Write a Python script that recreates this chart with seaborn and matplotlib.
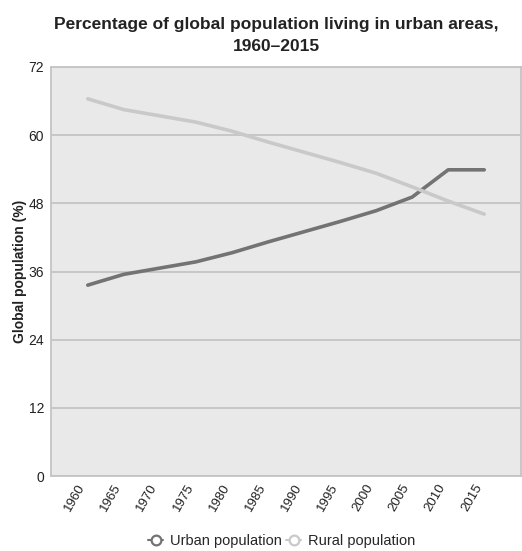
import pandas as pd
import seaborn as sns
from matplotlib import pyplot as plt
from matplotlib.lines import Line2D

years = [1960, 1965, 1970, 1975, 1980, 1985, 1990, 1995, 2000, 2005, 2010, 2015]
urban = [33.6, 35.5, 36.6, 37.7, 39.3, 41.2, 43.0, 44.8, 46.7, 49.1, 53.9, 53.9]
rural = [66.4, 64.5, 63.4, 62.3, 60.7, 58.8, 57.0, 55.2, 53.3, 50.9, 48.4, 46.1]
series_names = ["Urban population", "Rural population"]
y_ticks = [0, 12, 24, 36, 48, 60, 72]

colors = {"Urban population": "#737373", "Rural population": "#c9c9c9"}

df = pd.concat([
    pd.DataFrame({"year": years, "value": urban, "series": series_names[0]}),
    pd.DataFrame({"year": years, "value": rural, "series": series_names[1]}),
])

sns.set_theme(style="white")
plt.rcParams["font.family"] = ["Liberation Sans", "DejaVu Sans"]

fig = plt.figure(figsize=(5.22, 5.51), dpi=100)
ax = fig.add_axes([51 / 522, 1 - 476 / 551, 470 / 522, 409 / 551])
ax.set_facecolor("#e9e9e9")

sns.lineplot(ax=ax, data=df, x="year", y="value", hue="series",
             palette=colors, linewidth=2.6, legend=False)

ax.set_xlim(1954.9, 2020.1)
ax.set_ylim(0, 72)
ax.set_xticks(years)
ax.set_xticklabels([str(y) for y in years], rotation=60, fontsize=9.5, color="#222222", ha="right")
ax.set_yticks(y_ticks)
ax.set_yticklabels([str(v) for v in y_ticks], fontsize=10, color="#222222")
ax.tick_params(axis="y", length=0, pad=5)
ax.tick_params(axis="x", length=0, pad=4)
ax.yaxis.grid(True, color="#c4c4c4", linewidth=1.3)
ax.set_axisbelow(True)
for s in ax.spines.values():
    s.set_color("#c4c4c4")
    s.set_linewidth(1.3)

ax.set_xlabel("")
ax.set_ylabel("Global population (%)", fontsize=10, fontweight="bold", color="#222222", labelpad=1)

fig.suptitle("Percentage of global population living in urban areas,\n1960\u20132015",
             x=0.53, y=0.97, fontsize=12.5, fontweight="bold", color="#222222", linespacing=1.6)

handles = [Line2D([], [], color=colors[n], marker="o", markersize=7, markerfacecolor="white",
                  markeredgecolor=colors[n], markeredgewidth=1.6, linewidth=1.5) for n in series_names]
fig.legend(handles, series_names, loc="center", bbox_to_anchor=(0.54, 1 - 541 / 551), ncol=2,
           frameon=False, fontsize=10.5, handlelength=1.0, handletextpad=0.5, columnspacing=0.3)

fig.savefig("out.png", dpi=100)
